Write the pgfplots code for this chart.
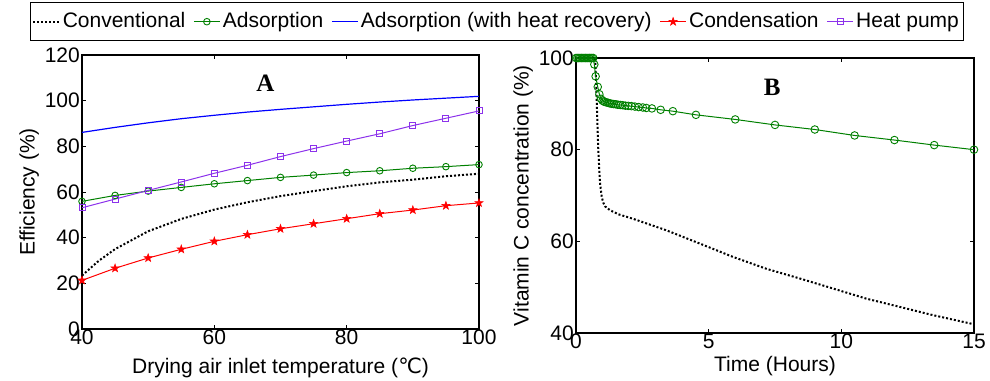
\documentclass[border=0pt]{standalone}
\usepackage{fontspec}
\setmainfont{Liberation Sans}
\newfontfamily\serifbf{Liberation Serif}
\newfontfamily\dejavu{DejaVu Sans}
\usepackage{pgfplots}
\pgfplotsset{compat=1.18}
\definecolor{mgreen}{RGB}{0,128,0}
\definecolor{mblue}{RGB}{0,0,255}
\definecolor{mred}{RGB}{255,0,0}
\definecolor{mpurple}{RGB}{140,50,235}
\pgfdeclareplotmark{pentagram}{%
  \pgfpathmoveto{\pgfqpointpolar{90}{\pgfplotmarksize}}%
  \pgfpathlineto{\pgfqpointpolar{126}{0.40\pgfplotmarksize}}%
  \pgfpathlineto{\pgfqpointpolar{162}{\pgfplotmarksize}}%
  \pgfpathlineto{\pgfqpointpolar{198}{0.40\pgfplotmarksize}}%
  \pgfpathlineto{\pgfqpointpolar{234}{\pgfplotmarksize}}%
  \pgfpathlineto{\pgfqpointpolar{270}{0.40\pgfplotmarksize}}%
  \pgfpathlineto{\pgfqpointpolar{306}{\pgfplotmarksize}}%
  \pgfpathlineto{\pgfqpointpolar{342}{0.40\pgfplotmarksize}}%
  \pgfpathlineto{\pgfqpointpolar{18}{\pgfplotmarksize}}%
  \pgfpathlineto{\pgfqpointpolar{54}{0.40\pgfplotmarksize}}%
  \pgfpathclose
  \pgfusepathqfillstroke}
\begin{document}
\begin{tikzpicture}
\fontsize{21bp}{24bp}\selectfont
\path[use as bounding box] (0bp,0bp) rectangle (990bp,381bp);
\pgfplotsset{
  every axis/.append style={
    scale only axis,
    /pgf/number format/assume math mode=true,
    axis line style={line width=1.1bp},
    every tick/.style={line width=0.8bp,black},
    major tick length=4bp,
    tick label style={font=\fontsize{21bp}{24bp}\selectfont},
    label style={font=\fontsize{21bp}{24bp}\selectfont},
    xticklabel style={inner ysep=1bp},
    yticklabel style={inner xsep=2bp},
  },
  convstyle/.style={black, line width=2bp, dash pattern=on 2bp off 2bp},
}
% ---------------- Panel A ----------------
\begin{axis}[
  at={(82bp,52bp)}, anchor=south west,
  width=397bp, height=274bp,
  xmin=40, xmax=100, ymin=0, ymax=120,
  xtick={40,60,80,100}, ytick={0,20,40,60,80,100,120},
  xlabel={Drying air inlet temperature ({\dejavu ℃})},
  ylabel={Efficiency (\%)},
  x label style={at={(axis description cs:0.5,-0.105)}, anchor=north, inner sep=0pt},
  y label style={at={(axis description cs:-0.133,0.5)}, anchor=center, inner sep=0pt},
  legend columns=5,
  legend style={
    at={(rel axis cs:1.045,1.193)}, anchor=north,
    draw=black, line width=0.8bp,
    font=\fontsize{21bp}{24bp}\selectfont,
    inner xsep=2bp, inner ysep=8bp,
    nodes={inner xsep=2.5bp, inner ysep=2bp},
    /tikz/every even column/.append style={column sep=5.5bp},
  },
  legend image code/.code={
    \draw[mark repeat=2,mark phase=2,#1] plot coordinates {(0bp,0bp) (13bp,0bp) (26bp,0bp)};
  },
]
\addplot[convstyle] coordinates {
(40,23.4) (42.5,29.8) (45,35.0) (50,42.8) (55,48.2) (60,52.3) (65,55.5) (70,58.2)
(75,60.4) (80,62.5) (85,64.2) (90,65.4) (95,66.9) (100,68.0)};
\addlegendentry{Conventional}
\addplot[mgreen, line width=1bp, mark=o, mark size=3.3bp, mark options={solid, line width=0.9bp}] coordinates {
(40,55.9) (45,58.5) (50,60.4) (55,62.0) (60,63.6) (65,65.0) (70,66.4)
(75,67.4) (80,68.5) (85,69.3) (90,70.4) (95,71.1) (100,72.0)};
\addlegendentry{Adsorption}
\addplot[mblue, line width=1.2bp] coordinates {
(40,86.1) (45,88.3) (50,90.3) (55,92.1) (60,93.6) (65,95.0) (70,96.2)
(75,97.3) (80,98.4) (85,99.4) (90,100.3) (95,101.1) (100,101.9)};
\addlegendentry{Adsorption (with heat recovery)}
\addplot[mred, line width=1bp, mark=pentagram, mark size=4.2bp, mark options={solid, line width=0.6bp, fill=mred, draw=mred}] coordinates {
(40,21.3) (45,26.6) (50,31.1) (55,34.9) (60,38.4) (65,41.3) (70,43.9)
(75,46.1) (80,48.3) (85,50.5) (90,52.1) (95,54.0) (100,55.2)};
\addlegendentry{Condensation}
\addplot[mpurple, line width=1bp, mark=square, mark size=3bp, mark options={solid, line width=0.9bp}] coordinates {
(40,53.1) (45,56.9) (50,60.7) (55,64.4) (60,68.2) (65,71.7) (70,75.5)
(75,79.0) (80,82.3) (85,85.5) (90,89.1) (95,92.3) (100,95.5)};
\addlegendentry{Heat pump}
\node[font=\serifbf\bfseries\fontsize{25bp}{28bp}\selectfont] at (axis cs:67.7,107.7) {A};
\end{axis}
% ---------------- Panel B ----------------
\begin{axis}[
  at={(576bp,48bp)}, anchor=south west,
  width=398bp, height=275bp,
  xmin=0, xmax=15, ymin=40, ymax=100,
  xtick={0,5,10,15}, ytick={40,60,80,100},
  xlabel={Time (Hours)},
  ylabel={Vitamin C concentration (\%)},
  x label style={at={(axis description cs:0.5,-0.085)}, anchor=north, inner sep=0pt},
  y label style={at={(axis description cs:-0.133,0.5)}, anchor=center, inner sep=0pt},
]
\addplot[convstyle] coordinates {
(0,100) (0.72,100) (0.75,96) (0.78,90.8) (0.84,80) (0.90,73) (0.97,69.7) (1.03,68.4)
(1.10,67.6) (1.28,66.8) (1.60,65.9) (2.16,64.9) (3.41,62.4) (4.67,59.5) (5.92,56.6)
(7.18,54.0) (8.43,51.9) (9.69,49.7) (10.94,47.5) (12.2,45.7) (13.45,43.9) (15,41.9)};
\addplot[mgreen, line width=1bp, mark=o, mark size=3.8bp, mark options={solid, line width=0.9bp}] coordinates {
(0,100) (0.05,100) (0.10,100) (0.15,100) (0.20,100) (0.25,100) (0.30,100) (0.35,100)
(0.40,100) (0.45,100) (0.50,100) (0.55,100) (0.60,100) (0.65,100)
(0.69,98.6) (0.74,96.0) (0.82,93.7) (0.88,92.1) (0.94,91.1)
(1.00,90.7) (1.05,90.5) (1.10,90.4) (1.16,90.3) (1.22,90.2) (1.28,90.1) (1.35,90.0)
(1.42,89.95) (1.50,89.9) (1.58,89.8) (1.67,89.75) (1.76,89.7) (1.86,89.6) (1.97,89.55)
(2.09,89.5) (2.22,89.4) (2.36,89.3) (2.52,89.2) (2.65,89.1) (2.86,89.0) (3.19,88.7)
(3.65,88.4) (4.52,87.6) (6.0,86.6) (7.5,85.4) (9.0,84.4) (10.5,83.1) (12.0,82.1)
(13.5,81.0) (15,80.0)};
\node[font=\serifbf\bfseries\fontsize{25bp}{28bp}\selectfont] at (axis cs:7.39,93.7) {B};
\end{axis}
\end{tikzpicture}
\end{document}
